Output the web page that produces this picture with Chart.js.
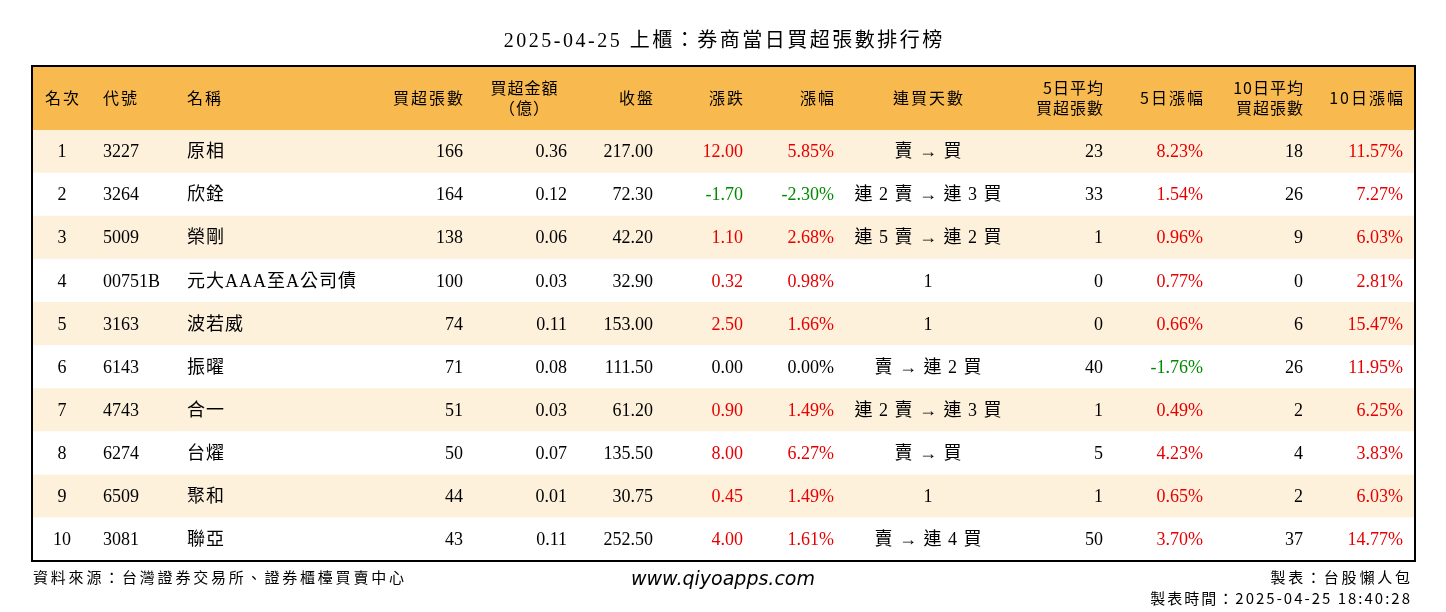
<!DOCTYPE html>
<html><head><meta charset="utf-8">
<script src="https://cdn.jsdelivr.net/npm/chart.js@4"></script>
<style>html,body{margin:0;padding:0;background:#fff}#w{width:1446px;height:612px}</style>
</head><body><div id="w"><canvas id="c"></canvas></div>
<script>
const ranks=["1","2","3","4","5","6","7","8","9","10"];
const codes=["3227","3264","5009","00751B","3163","6143","4743","6274","6509","3081"];
const names=["原相","欣銓","榮剛","元大AAA至A公司債","波若威","振曜","合一","台燿","聚和","聯亞"];
const netVol=[166,164,138,100,74,71,51,50,44,43];
const amount=[0.36,0.12,0.06,0.03,0.11,0.08,0.03,0.07,0.01,0.11];
const closes=[217.00,72.30,42.20,32.90,153.00,111.50,61.20,135.50,30.75,252.50];
const changes=[12.00,-1.70,1.10,0.32,2.50,0.00,0.90,8.00,0.45,4.00];
const pcts=[5.85,-2.30,2.68,0.98,1.66,0.00,1.49,6.27,1.49,1.61];
const streaks=["賣 → 買","連 2 賣 → 連 3 買","連 5 賣 → 連 2 買","1","1","賣 → 連 2 買","連 2 賣 → 連 3 買","賣 → 買","1","賣 → 連 4 買"];
const avg5=[23,33,1,0,0,40,1,5,1,50];
const pct5=[8.23,1.54,0.96,0.77,0.66,-1.76,0.49,4.23,0.65,3.70];
const avg10=[18,26,9,0,6,26,2,4,2,37];
const pct10=[11.57,7.27,6.03,2.81,15.47,11.95,6.25,3.83,6.03,14.77];
const headers=[["名次"],["代號"],["名稱"],["買超張數"],["買超金額","（億）"],["收盤"],["漲跌"],["漲幅"],["連買天數"],["5日平均","買超張數"],["5日漲幅"],["10日平均","買超張數"],["10日漲幅"]];

const FONT='"Liberation Serif","Noto Sans CJK TC",serif';
const CJK='"Noto Sans CJK TC",sans-serif';
const RED='#e60000',GREEN='#008a00';
const col=(v)=>v>0?RED:(v<0?GREEN:'#000');
const hasCJK=s=>/[\u3000-\u9fff\uff00-\uffef]/.test(s);
const cols=[[62,'center'],[103,'left'],[187,'left'],[463,'right'],[567,'right'],[653,'right'],[743,'right'],[834,'right'],[928,'center'],[1103,'right'],[1203,'right'],[1303,'right'],[1403,'right']];
const hcols=[[62,'center'],[103,'left'],[187,'left'],[463,'right'],[524,'center'],[653,'right'],[743,'right'],[834,'right'],[928,'center'],[1103,'right'],[1203,'right'],[1303,'right'],[1403,'right']];

function txt(ctx,s,x,y,align,sp){
  ctx.letterSpacing=sp+'px';
  const w=ctx.measureText(s).width-sp;
  let lx=align==='left'?x:(align==='right'?x-w:x-w/2);
  ctx.textAlign='left';ctx.fillText(s,lx,y);
  ctx.letterSpacing='0px';
}

const tablePlugin={id:'tbl',afterDatasetsDraw(chart){
  const ctx=chart.ctx,ca=chart.chartArea,ys=chart.scales.y;
  const top=66;
  ctx.save();
  ctx.fillStyle='#f8b94e';ctx.fillRect(ca.left,top,ca.right-ca.left,ca.top-top);
  ctx.fillStyle='#000';ctx.textBaseline='middle';
  ctx.font='16px '+CJK;
  headers.forEach((h,i)=>{const [x,a]=hcols[i];
    if(h.length===1)txt(ctx,h[0],x,(top+ca.top)/2,a,2);
    else{txt(ctx,h[0],x,(top+ca.top)/2-10,a,1);txt(ctx,h[1],x,(top+ca.top)/2+10,a,1);}});
  ranks.forEach((r,i)=>{
    const y=ys.getPixelForValue(i);
    const cells=[[r,'#000'],[codes[i],'#000'],[names[i],'#000'],[String(netVol[i]),'#000'],[amount[i].toFixed(2),'#000'],[closes[i].toFixed(2),'#000'],
      [changes[i].toFixed(2),col(changes[i])],[pcts[i].toFixed(2)+'%',col(pcts[i])],[streaks[i],'#000'],[String(avg5[i]),'#000'],
      [pct5[i].toFixed(2)+'%',col(pct5[i])],[String(avg10[i]),'#000'],[pct10[i].toFixed(2)+'%',col(pct10[i])]];
    cells.forEach((c,j)=>{const [x,a]=cols[j];ctx.fillStyle=c[1];
      ctx.font='18px '+FONT;txt(ctx,c[0],x,y+1,a,hasCJK(c[0])?1:0);});
  });
  ctx.strokeStyle='#000';ctx.lineWidth=2;
  ctx.strokeRect(ca.left,top,ca.right-ca.left,ca.bottom-top);
  ctx.fillStyle='#000';ctx.font='20px '+FONT;
  txt(ctx,'2025-04-25 上櫃：券商當日買超張數排行榜',723,42,'center',2.5);
  ctx.font='15px '+CJK;
  txt(ctx,'資料來源：台灣證券交易所、證券櫃檯買賣中心',33,577,'left',2.8);
  txt(ctx,'製表：台股懶人包',1410,577,'right',2.8);
  txt(ctx,'製表時間：2025-04-25 18:40:28',1410,598,'right',2);
  ctx.font='italic 19px "DejaVu Sans",sans-serif';
  txt(ctx,'www.qiyoapps.com',723,580,'center',0);
  ctx.restore();
}};

new Chart(document.getElementById('c'),{
  type:'bar',
  data:{labels:ranks,datasets:[{data:ranks.map(()=>1),
    backgroundColor:ranks.map((_,i)=>i%2===0?'#fdf1dc':'#ffffff'),
    borderWidth:0,barPercentage:1,categoryPercentage:1}]},
  options:{indexAxis:'y',responsive:true,maintainAspectRatio:false,animation:false,
    layout:{padding:{top:130,bottom:51,left:32,right:31}},
    plugins:{legend:{display:false},tooltip:{enabled:false}},
    scales:{x:{display:false,min:0,max:1},y:{display:false}}},
  plugins:[tablePlugin]
});
</script></body></html>
